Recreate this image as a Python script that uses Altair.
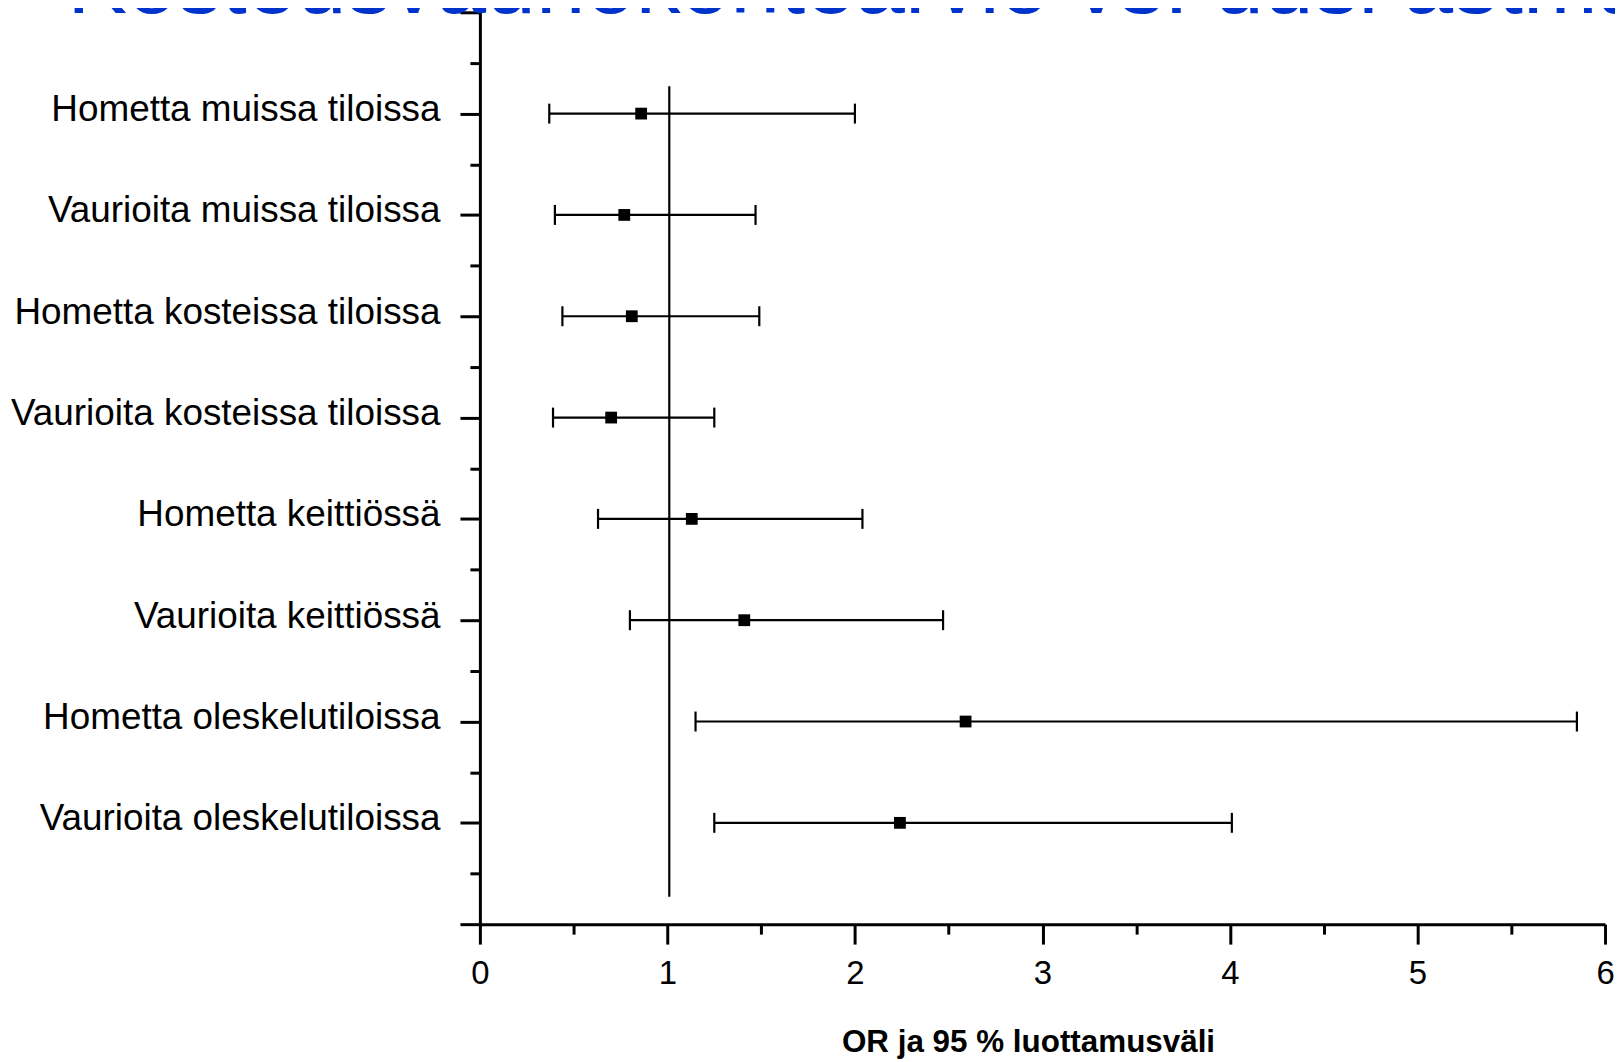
import json
import altair as alt
import pandas as pd

# ---- data ----
categories = [
    "Hometta muissa tiloissa",
    "Vaurioita muissa tiloissa",
    "Hometta kosteissa tiloissa",
    "Vaurioita kosteissa tiloissa",
    "Hometta keittiössä",
    "Vaurioita keittiössä",
    "Hometta oleskelutiloissa",
    "Vaurioita oleskelutiloissa",
]
or_values = [0.86, 0.77, 0.81, 0.70, 1.13, 1.41, 2.59, 2.24]
ci_low = [0.37, 0.40, 0.44, 0.39, 0.63, 0.80, 1.15, 1.25]
ci_high = [2.00, 1.47, 1.49, 1.25, 2.04, 2.47, 5.85, 4.01]
row_pos = [1, 2, 3, 4, 5, 6, 7, 8]

x_major_ticks = [0, 1, 2, 3, 4, 5, 6]
x_minor_ticks = [0.5, 1.5, 2.5, 3.5, 4.5, 5.5]
y_major_ticks = [0, 1, 2, 3, 4, 5, 6, 7, 8, 9]
y_minor_ticks = [0.5, 1.5, 2.5, 3.5, 4.5, 5.5, 6.5, 7.5, 8.5]

ref_x = [1.01]
ref_y_start = [0.73]
ref_y_end = [8.73]

title_text = "Kosteusvauriokohtearvio vs. uusi astma"
x_title = "OR ja 95 % luottamusväli"

FONT = "Liberation Sans"

df = pd.DataFrame({"cat": categories, "or": or_values, "low": ci_low,
                   "high": ci_high, "pos": row_pos})
ref_df = pd.DataFrame({"x": ref_x, "y1": ref_y_start, "y2": ref_y_end})
minor_df = pd.DataFrame({"x": [x_minor_ticks[0]], "y": [y_minor_ticks[0]]})
title_df = pd.DataFrame({"t": [title_text]})

label_list = [""] + categories + [""]
label_expr = "(" + json.dumps(label_list, ensure_ascii=False) + ")[round(datum.value)] || ''"

xscale = alt.Scale(domain=[0, 6], nice=False, zero=False)
yscale = alt.Scale(domain=[0, 9], nice=False, zero=False, reverse=True)

x_axis_main = alt.Axis(
    orient="bottom", values=x_major_ticks, format="d", grid=False,
    tickSize=20, tickWidth=3, tickColor="black",
    domainWidth=3, domainColor="black",
    labelFont=FONT, labelFontSize=33, labelColor="black", labelPadding=14,
    labelFlush=False, labelOverlap=False,
    title=x_title, titleFont=FONT, titleFontSize=31.5, titleFontWeight="bold",
    titleColor="black", titleX=550, titleY=128, titleAlign="center",
    titleBaseline="alphabetic", titleAnchor="start",
)
y_axis_main = alt.Axis(
    orient="left", values=y_major_ticks, grid=False,
    tickSize=20, tickWidth=3, tickColor="black",
    domainWidth=3, domainColor="black",
    labelExpr=label_expr, labelFont=FONT, labelFontSize=37,
    labelColor="black", labelPadding=20, labelBaseline="middle",
    labelOffset=-4,
    labelOverlap=False, labelFlush=False, labelLimit=0, title=None,
)
x_axis_minor = alt.Axis(
    orient="bottom", values=x_minor_ticks, grid=False, domain=False,
    labels=False, tickSize=10, tickWidth=3, tickColor="black", title=None,
)
y_axis_minor = alt.Axis(
    orient="left", values=y_minor_ticks, grid=False, domain=False,
    labels=False, tickSize=10, tickWidth=3, tickColor="black", title=None,
)

base = alt.Chart(df)

bars = base.mark_rule(color="black", strokeWidth=2.2).encode(
    x=alt.X("low:Q", scale=xscale, axis=x_axis_main),
    x2="high:Q",
    y=alt.Y("pos:Q", scale=yscale, axis=y_axis_main),
)
caps_low = base.mark_tick(orient="vertical", size=20, thickness=2.2,
                          color="black", opacity=1).encode(
    x=alt.X("low:Q", scale=xscale, axis=None),
    y=alt.Y("pos:Q", scale=yscale, axis=None),
)
caps_high = base.mark_tick(orient="vertical", size=20, thickness=2.2,
                           color="black", opacity=1).encode(
    x=alt.X("high:Q", scale=xscale, axis=None),
    y=alt.Y("pos:Q", scale=yscale, axis=None),
)
points = base.mark_square(size=140, color="black", opacity=1,
                          filled=True).encode(
    x=alt.X("or:Q", scale=xscale, axis=None),
    y=alt.Y("pos:Q", scale=yscale, axis=None),
)
ref = alt.Chart(ref_df).mark_rule(color="black", strokeWidth=2.2).encode(
    x=alt.X("x:Q", scale=xscale, axis=None),
    y=alt.Y("y1:Q", scale=yscale, axis=None),
    y2="y2:Q",
)
minor = alt.Chart(minor_df).mark_point(opacity=0).encode(
    x=alt.X("x:Q", scale=xscale, axis=x_axis_minor),
    y=alt.Y("y:Q", scale=yscale, axis=y_axis_minor),
)
title = alt.Chart(title_df).mark_text(
    align="left", baseline="alphabetic", font=FONT, fontSize=90,
    color="#0033CC",
).encode(
    text="t:N",
    x=alt.value(-414),
    y=alt.value(1),
)

chart = (
    alt.layer(bars, caps_low, caps_high, ref, points, minor, title)
    .resolve_axis(x="independent", y="independent")
    .properties(
        width=1129, height=915,
        padding={"left": 473.5, "top": 2.5, "right": 10, "bottom": 136},
        autosize=alt.AutoSizeParams(type="none"),
        background="white",
    )
    .configure_view(stroke=None)
)

chart.save("out.html", embed_options={"renderer": "svg", "actions": False})
